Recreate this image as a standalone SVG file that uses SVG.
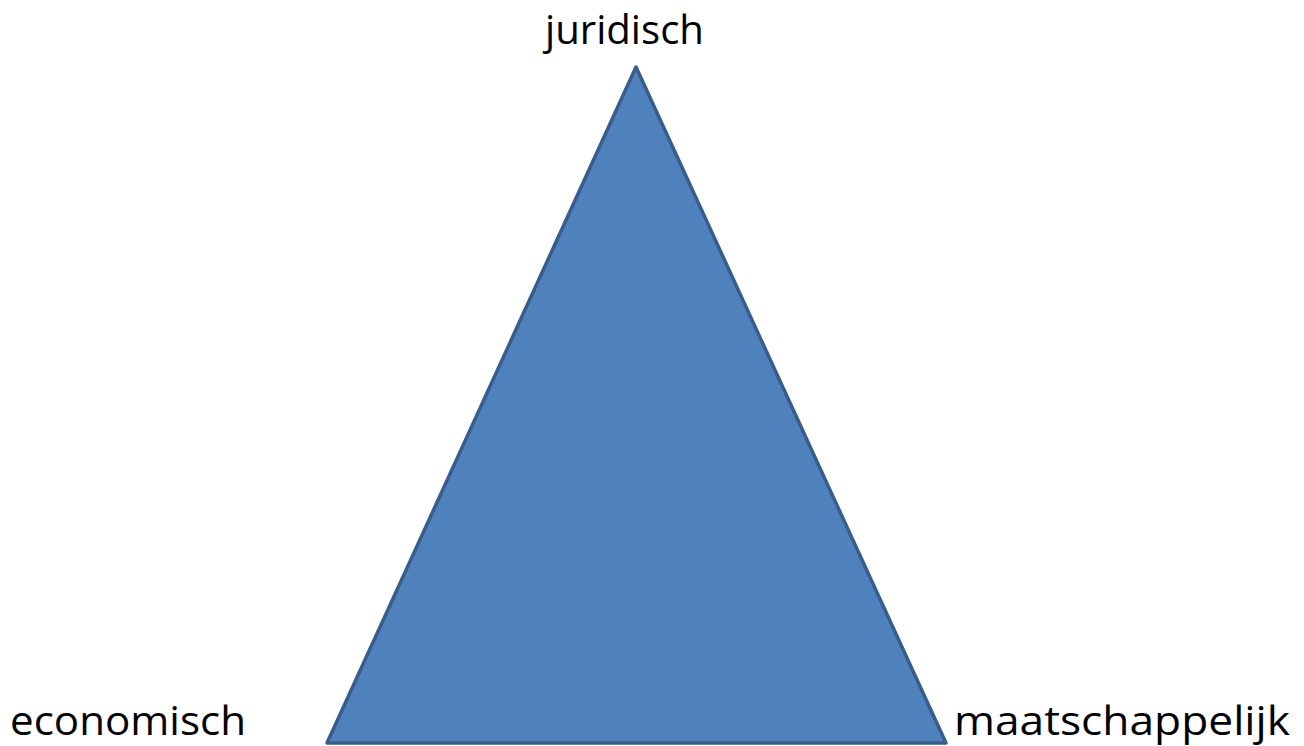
<svg xmlns="http://www.w3.org/2000/svg" width="1304" height="746" viewBox="0 0 1304 746">
<style>
.lbl{font-family:"Open Sans","Liberation Sans",sans-serif;font-size:41px;fill:#000}
.tri{fill:#4F81BD;stroke:#385D8A;stroke-width:3.5;stroke-linejoin:round}
</style>
<rect width="1304" height="746" fill="#fff"/>
<g id="triangle">
<polygon class="tri" points="636,67 946,743 327,743"/>
</g>
<g id="label-juridisch">
<text class="lbl" x="545" y="44" textLength="159" lengthAdjust="spacingAndGlyphs">juridisch</text>
</g>
<g id="label-economisch">
<text class="lbl" x="10" y="735" textLength="236" lengthAdjust="spacingAndGlyphs">economisch</text>
</g>
<g id="label-maatschappelijk">
<text class="lbl" x="954" y="735" textLength="336" lengthAdjust="spacingAndGlyphs">maatschappelijk</text>
</g>
<g id="connectors"></g>
</svg>
